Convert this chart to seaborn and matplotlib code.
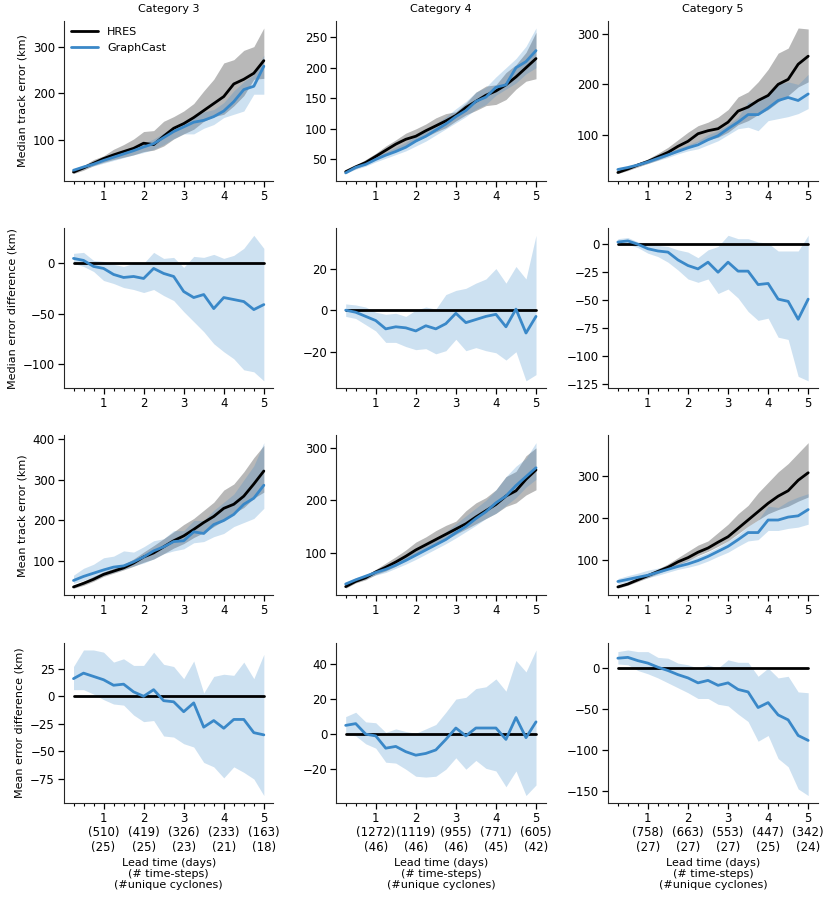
import numpy as np
import pandas as pd
import seaborn as sns
import matplotlib.pyplot as plt
from matplotlib.ticker import MultipleLocator

# lead times (days), every 6 h
lead = [0.25, 0.5, 0.75, 1.0, 1.25, 1.5, 1.75, 2.0, 2.25, 2.5,
        2.75, 3.0, 3.25, 3.5, 3.75, 4.0, 4.25, 4.5, 4.75, 5.0]

categories = ['Category 3', 'Category 4', 'Category 5']
row_labels = ['Median track error (km)', 'Median error difference (km)',
              'Mean track error (km)', 'Mean error difference (km)']

# number of time-steps / unique cyclones at days 1..5
n_steps = [[510, 419, 326, 233, 163],
           [1272, 1119, 955, 771, 605],
           [758, 663, 553, 447, 342]]
n_cyclones = [[25, 25, 23, 21, 18],
              [46, 46, 46, 45, 42],
              [27, 27, 27, 25, 24]]

zero_diff = [0.0] * 20

# ---- median track error ----
med_hres_c3 = [31, 40, 50, 60, 68, 75, 82, 93, 90, 108, 125, 135, 148, 163, 178, 193, 220, 230, 243, 270]
med_hres_c3_hi = [33, 45, 58, 66, 80, 90, 102, 118, 120, 140, 150, 162, 178, 205, 230, 265, 272, 292, 300, 340]
med_hres_c3_lo = [28, 35, 45, 52, 58, 63, 68, 75, 78, 87, 102, 113, 123, 140, 150, 155, 173, 195, 230, 232]
med_gc_c3 = [35, 42, 48, 56, 63, 70, 77, 85, 92, 105, 118, 128, 138, 142, 150, 162, 182, 208, 215, 258]
med_gc_c3_hi = [38, 46, 54, 62, 70, 78, 85, 93, 102, 115, 128, 138, 148, 160, 165, 180, 205, 225, 240, 282]
med_gc_c3_lo = [32, 38, 44, 50, 56, 62, 68, 73, 80, 90, 103, 113, 113, 125, 133, 148, 155, 162, 198, 198]

med_hres_c4 = [30, 38, 45, 55, 65, 75, 83, 88, 97, 105, 113, 122, 135, 145, 155, 162, 172, 185, 200, 215]
med_hres_c4_hi = [32, 40, 50, 60, 72, 82, 93, 100, 108, 118, 125, 128, 142, 160, 170, 172, 192, 205, 225, 258]
med_hres_c4_lo = [28, 35, 42, 50, 58, 65, 72, 80, 87, 95, 102, 113, 123, 130, 138, 140, 148, 165, 178, 182]
med_gc_c4 = [28, 37, 42, 50, 57, 63, 70, 80, 88, 98, 108, 120, 130, 145, 152, 168, 172, 200, 210, 228]
med_gc_c4_hi = [30, 40, 46, 55, 62, 70, 78, 88, 97, 108, 120, 133, 145, 160, 168, 185, 200, 215, 235, 265]
med_gc_c4_lo = [27, 34, 39, 46, 52, 58, 64, 72, 80, 90, 100, 110, 120, 132, 140, 155, 165, 175, 190, 200]

med_hres_c5 = [25, 32, 40, 47, 56, 65, 77, 87, 102, 108, 112, 125, 147, 155, 168, 178, 200, 210, 240, 256]
med_hres_c5_hi = [28, 35, 44, 52, 63, 75, 90, 105, 118, 125, 135, 150, 175, 185, 205, 230, 262, 272, 312, 310]
med_hres_c5_lo = [23, 29, 36, 43, 50, 58, 67, 75, 85, 90, 95, 105, 120, 128, 140, 150, 165, 178, 195, 205]
med_gc_c5 = [31, 35, 40, 46, 53, 60, 67, 74, 80, 90, 98, 112, 125, 140, 140, 153, 168, 174, 168, 181]
med_gc_c5_hi = [33, 37, 42, 50, 57, 65, 73, 80, 88, 100, 108, 120, 135, 165, 165, 182, 200, 205, 200, 220]
med_gc_c5_lo = [29, 33, 38, 43, 49, 55, 62, 68, 72, 80, 88, 100, 112, 115, 108, 128, 132, 136, 142, 152]

# ---- median error difference (GraphCast - HRES) ----
mdiff_c3 = [5, 3, -3, -5, -11, -14, -13, -15, -5, -10, -13, -28, -34, -31, -45, -34, -36, -38, -46, -41]
mdiff_c3_hi = [10, 11, 3, 2, -1, -3, 0, 0, 11, 5, 6, -4, 7, 6, 9, 5, 8, 15, 28, 15]
mdiff_c3_lo = [0, -3, -8, -17, -20, -24, -26, -29, -26, -32, -37, -48, -58, -68, -80, -88, -95, -106, -108, -117]

mdiff_c4 = [0, -1, -3, -5, -9, -8, -8.5, -10, -7.5, -9, -6.5, -1.5, -6, -4.5, -3, -2, -8, 0.5, -11, -3]
mdiff_c4_hi = [3, 2.5, 1.5, -1, -2, -1.5, -3, 0, 1.5, 0.5, 7.5, 9.5, 10.5, 13, 15, 20, 13, 21, 15, 36]
mdiff_c4_lo = [-3, -4, -7, -10, -15.5, -15.5, -17.5, -19, -18.5, -21, -19.5, -14, -19.5, -18, -19.5, -20.5, -24, -20, -34, -31]

mdiff_c5 = [2, 3, 0, -4, -6, -7, -14, -19, -22, -16, -25, -16, -24, -24, -36, -35, -49, -51, -67, -49]
mdiff_c5_hi = [5, 6, 2, 1, -1, -2, -5, -7, -12, -5, -2, 8, 5, 5, 2, 1, -6, -6, -6, 8]
mdiff_c5_lo = [0, 0, -3, -8, -11, -16, -23, -31, -34, -31, -44, -40, -48, -60, -68, -66, -83, -85, -118, -122]

# ---- mean track error ----
mean_hres_c3 = [36, 45, 55, 67, 75, 83, 95, 110, 120, 135, 150, 162, 178, 195, 210, 230, 240, 260, 290, 322]
mean_hres_c3_hi = [40, 50, 62, 73, 82, 92, 105, 122, 138, 155, 172, 190, 205, 225, 245, 275, 290, 320, 355, 385]
mean_hres_c3_lo = [33, 40, 50, 62, 70, 78, 87, 97, 105, 118, 132, 143, 158, 170, 185, 200, 218, 232, 255, 270]
mean_gc_c3 = [52, 62, 70, 78, 85, 88, 98, 110, 125, 135, 148, 150, 172, 168, 190, 200, 215, 240, 255, 287]
mean_gc_c3_hi = [65, 82, 92, 108, 112, 125, 122, 135, 150, 155, 175, 175, 200, 200, 225, 245, 265, 300, 335, 392]
mean_gc_c3_lo = [45, 52, 60, 65, 72, 80, 88, 95, 105, 118, 125, 130, 145, 148, 160, 168, 185, 195, 205, 230]

mean_hres_c4 = [35, 45, 52, 63, 72, 82, 93, 105, 115, 125, 135, 145, 155, 168, 180, 192, 208, 218, 240, 258]
mean_hres_c4_hi = [38, 48, 57, 68, 80, 92, 105, 120, 130, 142, 152, 160, 180, 195, 205, 220, 245, 255, 285, 300]
mean_hres_c4_lo = [32, 42, 48, 58, 65, 74, 85, 95, 105, 115, 125, 135, 145, 155, 165, 175, 188, 195, 210, 220]
mean_gc_c4 = [40, 48, 55, 62, 68, 76, 85, 95, 105, 115, 125, 138, 150, 165, 178, 195, 208, 228, 245, 262]
mean_gc_c4_hi = [43, 52, 58, 66, 75, 83, 93, 103, 115, 127, 140, 155, 170, 185, 200, 220, 245, 265, 280, 310]
mean_gc_c4_lo = [37, 44, 50, 57, 62, 70, 78, 87, 97, 107, 117, 128, 140, 152, 165, 175, 190, 205, 225, 240]

mean_hres_c5 = [35, 42, 52, 62, 72, 82, 95, 105, 118, 128, 142, 155, 175, 195, 215, 235, 252, 265, 290, 308]
mean_hres_c5_hi = [38, 46, 56, 67, 78, 90, 105, 120, 135, 145, 165, 185, 210, 230, 260, 285, 310, 330, 355, 380]
mean_hres_c5_lo = [32, 39, 48, 57, 67, 77, 88, 98, 110, 120, 132, 145, 162, 180, 195, 210, 220, 228, 240, 250]
mean_gc_c5 = [48, 53, 58, 63, 70, 77, 84, 90, 98, 108, 120, 132, 148, 165, 165, 195, 195, 202, 205, 220]
mean_gc_c5_hi = [55, 62, 68, 75, 80, 85, 90, 100, 108, 118, 130, 145, 160, 180, 195, 228, 225, 240, 250, 258]
mean_gc_c5_lo = [42, 47, 52, 57, 63, 70, 77, 82, 88, 97, 108, 118, 132, 145, 148, 170, 170, 175, 178, 185]

# ---- mean error difference ----
ediff_c3 = [16, 21, 18, 15, 10, 11, 4, 0, 6, -4, -5, -14, -6, -28, -22, -29, -21, -21, -33, -35]
ediff_c3_hi = [27, 42, 42, 40, 31, 34, 28, 28, 40, 29, 27, 16, 32, 3, 18, 20, 19, 31, 16, 38]
ediff_c3_lo = [6, 6, 2, -3, -7, -8, -17, -23, -22, -36, -37, -43, -46, -60, -64, -74, -64, -69, -75, -90]

ediff_c4 = [5, 6, 0, -1, -8, -7, -10, -12, -11, -9, -3, 3.5, -1, 3.5, 3.5, 3.5, -3, 9.5, -2, 7]
ediff_c4_hi = [10, 12.5, 7, 6.5, 1, 3, 1.5, 0.5, 3, 5.5, 12.5, 20, 21, 26, 27, 31.5, 24.5, 42, 35.5, 48]
ediff_c4_lo = [0, -1, -5.5, -8, -16, -16.5, -20, -24, -24.5, -24, -20, -13.5, -20, -15, -19.5, -21, -30, -21, -35, -29]

ediff_c5 = [12, 13, 9, 6, 1, -3, -8, -12, -18, -15, -21, -18, -26, -29, -48, -42, -57, -63, -82, -88]
ediff_c5_hi = [20, 22, 20, 20, 13, 12, 6, 4, 0, 4, 0, 10, 7, 7, -10, 0, -12, -10, -29, -30]
ediff_c5_lo = [5, 4, -3, -7, -12, -18, -24, -30, -37, -37, -44, -46, -56, -65, -89, -82, -110, -120, -147, -155]

HRES_COL = 'black'
GC_COL = '#3a88c8'

# panels: (hres, hres_lo, hres_hi, gc, gc_lo, gc_hi) per row/col
panels = [
    [(med_hres_c3, med_hres_c3_lo, med_hres_c3_hi, med_gc_c3, med_gc_c3_lo, med_gc_c3_hi),
     (med_hres_c4, med_hres_c4_lo, med_hres_c4_hi, med_gc_c4, med_gc_c4_lo, med_gc_c4_hi),
     (med_hres_c5, med_hres_c5_lo, med_hres_c5_hi, med_gc_c5, med_gc_c5_lo, med_gc_c5_hi)],
    [(zero_diff, None, None, mdiff_c3, mdiff_c3_lo, mdiff_c3_hi),
     (zero_diff, None, None, mdiff_c4, mdiff_c4_lo, mdiff_c4_hi),
     (zero_diff, None, None, mdiff_c5, mdiff_c5_lo, mdiff_c5_hi)],
    [(mean_hres_c3, mean_hres_c3_lo, mean_hres_c3_hi, mean_gc_c3, mean_gc_c3_lo, mean_gc_c3_hi),
     (mean_hres_c4, mean_hres_c4_lo, mean_hres_c4_hi, mean_gc_c4, mean_gc_c4_lo, mean_gc_c4_hi),
     (mean_hres_c5, mean_hres_c5_lo, mean_hres_c5_hi, mean_gc_c5, mean_gc_c5_lo, mean_gc_c5_hi)],
    [(zero_diff, None, None, ediff_c3, ediff_c3_lo, ediff_c3_hi),
     (zero_diff, None, None, ediff_c4, ediff_c4_lo, ediff_c4_hi),
     (zero_diff, None, None, ediff_c5, ediff_c5_lo, ediff_c5_hi)],
]
ytick_step = [[100, 50, 100], [50, 20, 25], [100, 100, 100], [25, 20, 50]]

sns.set_style('ticks')
plt.rcParams['font.family'] = ['DejaVu Sans']
plt.rcParams['font.size'] = 8
plt.rcParams['xtick.labelsize'] = 8.5
plt.rcParams['ytick.labelsize'] = 8.5
plt.rcParams['text.color'] = 'black'
plt.rcParams['axes.labelcolor'] = 'black'
plt.rcParams['xtick.color'] = 'black'
plt.rcParams['ytick.color'] = 'black'

fig, axes = plt.subplots(4, 3, figsize=(8.31, 9.0), dpi=100)
fig.subplots_adjust(left=0.077, right=0.984, top=0.977, bottom=0.108,
                    wspace=0.30, hspace=0.295)

for r in range(4):
    for c in range(3):
        ax = axes[r, c]
        hres, h_lo, h_hi, gc, g_lo, g_hi = panels[r][c]
        df = pd.DataFrame({'lead': lead, 'HRES': hres, 'GraphCast': gc})
        if h_lo is not None:
            ax.fill_between(lead, h_lo, h_hi, color=HRES_COL, alpha=0.28, lw=0)
        ax.fill_between(lead, g_lo, g_hi, color=GC_COL, alpha=0.25, lw=0)
        first = (r == 0 and c == 0)
        sns.lineplot(data=df, x='lead', y='HRES', color=HRES_COL, lw=2,
                     label='HRES' if first else None, legend=first, ax=ax)
        sns.lineplot(data=df, x='lead', y='GraphCast', color=GC_COL, lw=2,
                     label='GraphCast' if first else None, legend=first, ax=ax)
        sns.despine(ax=ax)
        ax.xaxis.set_major_locator(MultipleLocator(1))
        ax.xaxis.set_minor_locator(MultipleLocator(0.25))
        ax.yaxis.set_major_locator(MultipleLocator(ytick_step[r][c]))
        ax.tick_params(which='major', length=4, width=0.9, pad=2.5)
        ax.tick_params(which='minor', length=2.5, width=0.8)
        ax.set_xlabel('')
        ax.set_ylabel(row_labels[r] if c == 0 else '')
        if r == 0:
            ax.set_title(categories[c], fontsize=8)
        if r == 3:
            ticks = [1, 2, 3, 4, 5]
            ax.set_xticks(ticks)
            ax.set_xticklabels([f'{t}\n({s})\n({n})' for t, s, n in
                                zip(ticks, n_steps[c], n_cyclones[c])],
                               linespacing=1.15)
            ax.set_xlabel('Lead time (days)\n(# time-steps)\n(#unique cyclones)',
                          linespacing=1.15, labelpad=3)
        if first:
            ax.legend(loc='upper left', frameon=False, handlelength=2.5,
                      borderaxespad=0.2)

fig.savefig('out.png', dpi=100)
